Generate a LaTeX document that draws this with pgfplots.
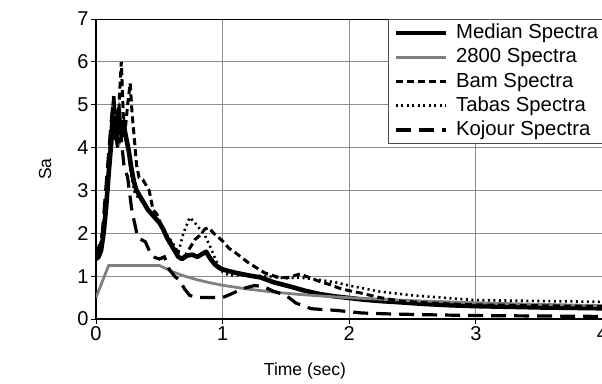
\documentclass[border=0pt]{standalone}
\usepackage{pgfplots}
\pgfplotsset{compat=1.18}
\usepackage{fontspec}
\setmainfont{Liberation Sans}
\definecolor{gridgray}{HTML}{8C8C8C}
\definecolor{codegray}{HTML}{808080}
\begin{document}
\begin{tikzpicture}[x=1pt,y=1pt]
\useasboundingbox (0,0) rectangle (602,383);
\begin{axis}[
  at={(96pt,64pt)}, anchor=south west,
  scale only axis, width=506.5pt, height=300pt,
  xmin=0, xmax=4, ymin=0, ymax=7,
  xtick={0,1,2,3,4}, ytick={0,1,...,7},
  axis lines=left, axis line style={-, line width=1.8pt, black},
  grid=major, major grid style={gridgray, line width=1pt},
  tick align=outside, major tick length=5pt,
  tick style={black, line width=1pt},
  /pgf/number format/assume math mode=true,
  tick label style={font=\fontsize{20}{22}\selectfont},
  xticklabel style={yshift=1pt},
  yticklabel style={xshift=1pt},
  xlabel={Time (sec)}, ylabel={Sa},
  label style={font=\fontsize{17.5}{20}\selectfont},
  xlabel style={at={(axis description cs:0.4126,-0.1733)}, anchor=center},
  ylabel style={at={(axis description cs:-0.1007,0.5)}, anchor=center},
  legend image code/.code={\draw[#1] (0pt,0pt) -- (50pt,0pt); \path (56pt,0pt);},
  legend cell align=left,
  legend style={at={(axis description cs:0.5765,1)}, anchor=north west,
    draw=black!70, line width=1pt, fill=white,
    font=\fontsize{20.3}{23}\selectfont,
    inner xsep=5pt, inner ysep=1.5pt, row sep=0pt,
    nodes={inner sep=2pt, text height=15.6pt, text depth=4.6pt}},
  clip=true,
]
\addplot[black, line width=4.6pt, line join=round] coordinates {
(0,1.4) (0.02,1.45) (0.04,1.6) (0.06,2.0) (0.08,2.6) (0.10,3.4) (0.12,4.1)
(0.13,4.6) (0.14,4.3) (0.15,4.7) (0.16,4.2) (0.17,4.5) (0.18,4.9) (0.19,4.4)
(0.20,4.6) (0.21,4.3) (0.22,4.5) (0.24,4.2) (0.26,3.9) (0.28,3.5) (0.30,3.2)
(0.32,3.0) (0.35,2.85) (0.38,2.7) (0.41,2.55) (0.44,2.45) (0.47,2.35) (0.50,2.25)
(0.53,2.1) (0.56,1.9) (0.59,1.75) (0.62,1.6) (0.65,1.45) (0.68,1.4) (0.72,1.48)
(0.76,1.5) (0.80,1.45) (0.84,1.52) (0.87,1.57) (0.90,1.42) (0.94,1.27) (0.98,1.18)
(1.02,1.14) (1.10,1.08) (1.20,1.02) (1.30,0.97) (1.40,0.86) (1.53,0.76) (1.65,0.66)
(1.77,0.58) (1.88,0.53) (2.0,0.49) (2.12,0.45) (2.24,0.42) (2.4,0.39) (2.6,0.35)
(2.8,0.32) (3.0,0.30) (3.5,0.27) (4.0,0.25)};
\addlegendentry{Median Spectra}
\addplot[codegray, line width=2.8pt] coordinates {
(0,0.5) (0.1,1.25) (0.5,1.25) (0.6,1.106) (0.7,1.0) (0.8,0.914) (0.9,0.845)
(1.0,0.787) (1.2,0.697) (1.4,0.629) (1.6,0.575) (1.8,0.532) (2.0,0.496)
(2.5,0.428) (3.0,0.379) (3.5,0.342) (4.0,0.3125)};
\addlegendentry{2800 Spectra}
\addplot[black, line width=3pt, dash pattern=on 7pt off 4pt] coordinates {
(0,1.4) (0.03,1.6) (0.06,2.2) (0.09,3.0) (0.11,4.0) (0.13,4.9) (0.14,5.2)
(0.155,4.3) (0.17,4.0) (0.185,5.2) (0.20,6.0) (0.215,4.8) (0.23,4.4) (0.25,5.0)
(0.27,5.5) (0.285,4.8) (0.30,4.3) (0.32,3.6) (0.34,3.3) (0.37,3.25) (0.40,3.1)
(0.42,3.0) (0.45,2.55) (0.48,2.45) (0.52,2.15) (0.55,1.95) (0.58,1.85) (0.62,1.65)
(0.66,1.5) (0.70,1.45) (0.74,1.65) (0.78,1.85) (0.82,1.95) (0.86,2.1) (0.89,2.13)
(0.93,2.0) (1.00,1.82) (1.05,1.65) (1.10,1.55) (1.20,1.32) (1.33,1.08) (1.45,0.96)
(1.52,0.97) (1.61,1.05) (1.70,0.95) (1.77,0.87) (1.85,0.8) (1.92,0.72) (2.00,0.66)
(2.10,0.60) (2.24,0.50) (2.40,0.42) (2.60,0.38) (2.80,0.35) (3.00,0.33) (3.50,0.31)
(4.00,0.29)};
\addlegendentry{Bam Spectra}
\addplot[black, line width=2.6pt, dash pattern=on 2pt off 3.5pt] coordinates {
(0,1.4) (0.05,1.9) (0.10,3.3) (0.13,4.4) (0.16,4.9) (0.19,4.2) (0.22,4.6)
(0.25,4.0) (0.28,3.3) (0.31,2.9) (0.35,2.8) (0.40,2.6) (0.45,2.4) (0.50,2.25)
(0.55,2.0) (0.60,1.8) (0.65,1.55) (0.69,2.0) (0.74,2.37) (0.78,2.25) (0.82,2.1)
(0.86,1.95) (0.90,1.7) (0.95,1.35) (1.00,1.1) (1.05,1.02) (1.20,1.02) (1.35,1.0)
(1.50,0.95) (1.60,0.97) (1.75,0.92) (1.90,0.85) (2.00,0.78) (2.24,0.64) (2.50,0.55)
(3.00,0.44) (3.50,0.42) (4.00,0.40)};
\addlegendentry{Tabas Spectra}
\addplot[black, line width=3.2pt, dash pattern=on 15pt off 8pt] coordinates {
(0,1.4) (0.05,2.0) (0.09,3.5) (0.12,4.6) (0.14,5.2) (0.16,4.4) (0.18,4.8)
(0.20,4.2) (0.22,3.6) (0.25,3.3) (0.28,2.6) (0.30,2.3) (0.33,1.9) (0.36,1.85)
(0.39,1.8) (0.42,1.6) (0.45,1.45) (0.50,1.4) (0.54,1.45) (0.58,1.15) (0.62,1.0)
(0.66,0.9) (0.70,0.7) (0.74,0.55) (0.80,0.5) (0.90,0.5) (1.00,0.5) (1.08,0.6)
(1.15,0.7) (1.25,0.78) (1.32,0.76) (1.40,0.65) (1.50,0.55) (1.58,0.37) (1.70,0.24)
(1.90,0.2) (2.10,0.14) (2.30,0.12) (2.60,0.10) (3.00,0.08) (3.50,0.07) (4.00,0.06)};
\addlegendentry{Kojour Spectra}
\draw[black, line width=1.8pt] (rel axis cs:0,1) -- (rel axis cs:1,1);
\end{axis}
\end{tikzpicture}
\end{document}
